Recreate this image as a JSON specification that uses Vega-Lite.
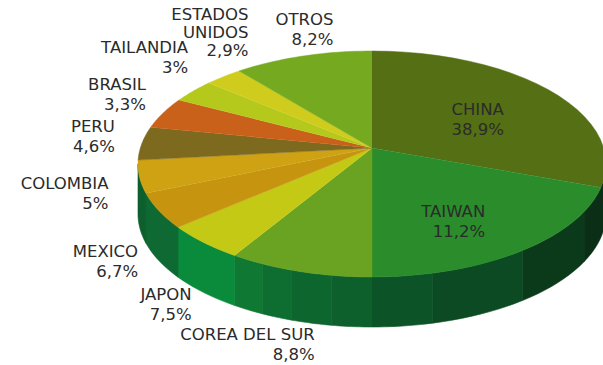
{
"$schema":"https://vega.github.io/schema/vega-lite/v6.json",
"width":603,"height":365,"padding":0,
"autosize":"none",
"background":"white",
"resolve":{"scale":{"fill":"independent","stroke":"independent"}},
"config":{"view":{"stroke":null},"text":{"font":"DejaVu Sans","fontSize":16.5,"color":"#2b2b2b","align":"right","baseline":"top","lineBreak":"\n","lineHeight":20}},
"datasets":{"paises":[
{"pais":"CHINA","valor":38.9,"a0":0,"a1":102,"etiqueta":"CHINA\n38,9%"},
{"pais":"TAIWAN","valor":11.2,"a0":102,"a1":180,"etiqueta":"TAIWAN\n11,2%"},
{"pais":"COREA DEL SUR","valor":8.8,"a0":180,"a1":216,"etiqueta":"COREA DEL SUR\n8,8%"},
{"pais":"JAPON","valor":7.5,"a0":216,"a1":236,"etiqueta":"JAPON\n7,5%"},
{"pais":"MEXICO","valor":6.7,"a0":236,"a1":255,"etiqueta":"MEXICO\n6,7%"},
{"pais":"COLOMBIA","valor":5,"a0":255,"a1":272,"etiqueta":"COLOMBIA\n5%"},
{"pais":"PERU","valor":4.6,"a0":272,"a1":289,"etiqueta":"PERU\n4,6%"},
{"pais":"BRASIL","valor":3.3,"a0":289,"a1":304.5,"etiqueta":"BRASIL\n3,3%"},
{"pais":"TAILANDIA","valor":3,"a0":304.5,"a1":315.8,"etiqueta":"TAILANDIA\n3%"},
{"pais":"ESTADOS UNIDOS","valor":2.9,"a0":315.8,"a1":325.4,"etiqueta":"ESTADOS\nUNIDOS\n2,9%"},
{"pais":"OTROS","valor":8.2,"a0":325.4,"a1":360,"etiqueta":"OTROS\n8,2%"}
],"pared":[
{"tramo":"a","a0":90,"a1":115},{"tramo":"b","a0":115,"a1":140},{"tramo":"c","a0":140,"a1":165},
{"tramo":"d","a0":165,"a1":180},{"tramo":"e","a0":180,"a1":190},{"tramo":"f","a0":190,"a1":200},
{"tramo":"g","a0":200,"a1":208},{"tramo":"h","a0":208,"a1":216},{"tramo":"i","a0":216,"a1":236},
{"tramo":"j","a0":236,"a1":255},{"tramo":"k","a0":255,"a1":270}
]},
"layer":[
{"data":{"name":"pared"},
 "transform":[
  {"calculate":"sequence(0,1.001,0.1)","as":"t"},{"flatten":["t"]},
  {"calculate":"datum.a0+datum.t*(datum.a1-datum.a0)","as":"ang"},
  {"calculate":"sin(datum.ang*PI/180)","as":"x"},
  {"calculate":"-cos(datum.ang*PI/180)","as":"y"},
  {"calculate":"datum.y+0.4425","as":"yb"}],
 "mark":{"type":"area","opacity":1,"strokeWidth":0.6},
 "encoding":{
  "x":{"field":"x","type":"quantitative","axis":null,"scale":{"domain":[-1.5897,0.9872]}},
  "y":{"field":"y","type":"quantitative","axis":null,"scale":{"domain":[1.7788,-1.4513]}},
  "y2":{"field":"yb"},
  "fill":{"field":"tramo","type":"nominal","legend":null,"scale":{"domain":["a","b","c","d","e","f","g","h","i","j","k"],"range":["#0a2f16","#0b3a1b","#0b4a22","#0c5328","#0d5f2c","#0d662e","#0e6e31","#0f7833","#0a8b3c","#0e6a32","#0d5f2e"]}},
  "stroke":{"field":"tramo","type":"nominal","legend":null,"scale":{"domain":["a","b","c","d","e","f","g","h","i","j","k"],"range":["#0a2f16","#0b3a1b","#0b4a22","#0c5328","#0d5f2c","#0d662e","#0e6e31","#0f7833","#0a8b3c","#0e6a32","#0d5f2e"]}}}},
{"data":{"name":"paises"},
 "transform":[
  {"calculate":"sequence(-0.04,1.001,0.04)","as":"t"},{"flatten":["t"]},
  {"calculate":"datum.a0+max(datum.t,0)*(datum.a1-datum.a0)","as":"ang"},
  {"calculate":"datum.t<0?0:sin(datum.ang*PI/180)","as":"x"},
  {"calculate":"datum.t<0?-0.1416:-cos(datum.ang*PI/180)","as":"y"}],
 "mark":{"type":"line","strokeWidth":0.5},
 "encoding":{
  "x":{"field":"x","type":"quantitative","axis":null,"scale":{"domain":[-1.5897,0.9872]}},
  "y":{"field":"y","type":"quantitative","axis":null,"scale":{"domain":[1.7788,-1.4513]}},
  "order":{"field":"t"},
  "fill":{"field":"pais","type":"nominal","legend":null,"scale":{"domain":["CHINA","TAIWAN","COREA DEL SUR","JAPON","MEXICO","COLOMBIA","PERU","BRASIL","TAILANDIA","ESTADOS UNIDOS","OTROS"],"range":["#556f14","#2a8c2a","#6aa322","#c3c914","#c6940f","#cfa214","#7d6a1e","#c9611a","#b5c91c","#cfcc1e","#74a920"]}},
  "stroke":{"field":"pais","type":"nominal","legend":null,"scale":{"domain":["CHINA","TAIWAN","COREA DEL SUR","JAPON","MEXICO","COLOMBIA","PERU","BRASIL","TAILANDIA","ESTADOS UNIDOS","OTROS"],"range":["#556f14","#2a8c2a","#6aa322","#c3c914","#c6940f","#cfa214","#7d6a1e","#c9611a","#b5c91c","#cfcc1e","#74a920"]}}}},
{"data":{"name":"paises"},
 "transform":[
  {"calculate":"(datum.a0+datum.a1)/2","as":"m"},
  {"calculate":"sin(datum.m*PI/180)","as":"lx"},
  {"calculate":"-cos(datum.m*PI/180)","as":"ly"}],
 "encoding":{
  "x":{"field":"lx","type":"quantitative","axis":null,"scale":{"domain":[-1.5897,0.9872]}},
  "y":{"field":"ly","type":"quantitative","axis":null,"scale":{"domain":[1.7788,-1.4513]}},
  "text":{"field":"etiqueta"}},
 "layer":[
  {"transform":[{"filter":"datum.pais=='CHINA'"}],"mark":{"type":"text","dx":-50,"dy":9}},
  {"transform":[{"filter":"datum.pais=='TAIWAN'"}],"mark":{"type":"text","dx":-34,"dy":-48}},
  {"transform":[{"filter":"datum.pais=='COREA DEL SUR'"}],"mark":{"type":"text","dx":15,"dy":56}},
  {"transform":[{"filter":"datum.pais=='JAPON'"}],"mark":{"type":"text","dx":-12,"dy":45}},
  {"transform":[{"filter":"datum.pais=='MEXICO'"}],"mark":{"type":"text","dx":-21,"dy":33}},
  {"transform":[{"filter":"datum.pais=='COLOMBIA'"}],"mark":{"type":"text","dx":-31,"dy":-1}},
  {"transform":[{"filter":"datum.pais=='PERU'"}],"mark":{"type":"text","dx":-27,"dy":-24}},
  {"transform":[{"filter":"datum.pais=='BRASIL'"}],"mark":{"type":"text","dx":-17,"dy":-36}},
  {"transform":[{"filter":"datum.pais=='TAILANDIA'"}],"mark":{"type":"text","dx":-5,"dy":-51}},
  {"transform":[{"filter":"datum.pais=='ESTADOS UNIDOS'"}],"mark":{"type":"text","dx":25,"dy":-70,"lineHeight":18}},
  {"transform":[{"filter":"datum.pais=='OTROS'"}],"mark":{"type":"text","dx":31,"dy":-44}}
 ]}
]}
